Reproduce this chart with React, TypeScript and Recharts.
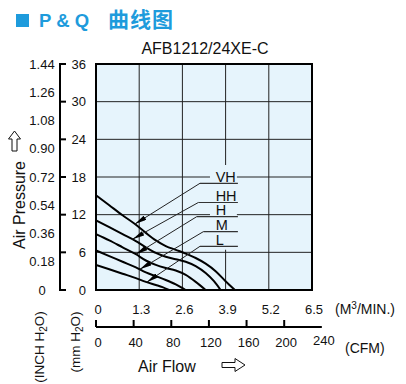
import React from 'react';
import {
  LineChart, Line, XAxis, YAxis, CartesianGrid, ReferenceArea, ReferenceLine, ReferenceDot,
} from 'recharts';

const FONT = '"Liberation Sans", Arial, sans-serif';
const BLUE = '#1e9bdc';
const PLOT_BG = '#e6f4fc';
const M3_TO_CFM = 35.3147;

// axis ticks
const m3Ticks = [0, 1.3, 2.6, 3.9, 5.2, 6.5];
const cfmTicks = [0, 40, 80, 120, 160, 200, 240];
const mmTicks = [0, 6, 12, 18, 24, 30, 36];
const inchTicks = [0, 0.18, 0.36, 0.54, 0.72, 0.9, 1.08, 1.26, 1.44];

// P-Q curves: flow in M3/min, pressure in mmH2O
const vhFlow = [0, 0.4, 0.8, 1.2, 1.5, 1.8, 2.1, 2.4, 2.7, 3.0, 3.3, 3.6, 3.9, 4.18];
const vhPressure = [15.1, 13.5, 11.9, 10.4, 9.1, 7.9, 7.0, 6.4, 5.8, 5.1, 4.2, 3.0, 1.4, 0];
const hhFlow = [0, 0.4, 0.8, 1.2, 1.5, 1.8, 2.1, 2.4, 2.7, 3.0, 3.3, 3.55, 3.75];
const hhPressure = [11.1, 10.0, 8.9, 7.8, 6.8, 5.9, 5.3, 4.9, 4.5, 3.8, 2.7, 1.4, 0];
const hFlow = [0, 0.4, 0.8, 1.2, 1.5, 1.8, 2.1, 2.4, 2.7, 3.0, 3.3];
const hPressure = [8.9, 7.9, 6.8, 5.7, 4.7, 4.0, 3.5, 3.1, 2.4, 1.3, 0];
const mFlow = [0, 0.4, 0.8, 1.2, 1.5, 1.8, 2.1, 2.4, 2.7];
const mPressure = [6.3, 5.4, 4.5, 3.6, 2.8, 2.2, 1.6, 0.9, 0];
const lFlow = [0, 0.4, 0.8, 1.2, 1.5, 1.8, 2.0, 2.2];
const lPressure = [4.0, 3.3, 2.6, 1.9, 1.3, 0.8, 0.45, 0];

// speed labels with leader lines
const speedNames = ['VH', 'HH', 'H', 'M', 'L'];
const labelLevel = [17.0, 13.94, 11.68, 9.29, 6.96];
const labelStart = [3.13, 3.08, 3.03, 3.23, 3.13];
const labelEnd = 4.27;
const labelTextX = 3.6;
const tipFlow = [1.17, 1.1, 1.2, 1.32, 1.53];
const tipPressure = [10.5, 8.1, 5.7, 3.3, 1.25];

const toPoints = (f: number[], p: number[]) =>
  f.map((v, i) => ({ f: v, cfm: v * M3_TO_CFM, p: p[i] }));
const curves = [
  toPoints(vhFlow, vhPressure),
  toPoints(hhFlow, hhPressure),
  toPoints(hFlow, hPressure),
  toPoints(mFlow, mPressure),
  toPoints(lFlow, lPressure),
];

// axis ids: recharts stacks same-side axes by id, first id sits next to the plot
const X_M3 = 'flow';
const X_CFM = 'flowCfm';
const Y_MM = 'pressure';
const Y_INCH = 'pressureInch';

const MmTick = ({ x, y, payload }: any) => (
  <g>
    <line x1={x - 37} x2={x - 30} y1={y} y2={y} stroke="#000" strokeWidth={2} />
    <text x={x - 10} y={y} dy={4.5} textAnchor="end" fontSize={13} fontFamily={FONT} fill="#111">
      {payload.value}
    </text>
  </g>
);

const InchTick = ({ x, y, payload }: any) => (
  <text x={x - 18} y={y} dy={4.5} textAnchor="middle" fontSize={13} fontFamily={FONT} fill="#111">
    {payload.value === 0 ? '0' : payload.value.toFixed(2)}
  </text>
);

const M3Tick = ({ x, y, payload }: any) => (
  <text x={x + 2} y={y + 24} textAnchor="middle" fontSize={13} fontFamily={FONT} fill="#111">
    {payload.value}
  </text>
);

const CfmTick = ({ x, y, payload }: any) => (
  <g>
    {payload.value !== 240 && <line x1={x} x2={x} y1={y} y2={y - 7} stroke="#000" strokeWidth={2} />}
    <text x={x + 2} y={y + (payload.value === 240 ? 18 : 20)} textAnchor="middle" fontSize={13} fontFamily={FONT} fill="#111">
      {payload.value}
    </text>
  </g>
);

export default function App() {
  return (
    <div style={{ position: 'absolute', left: 0, top: 0, width: 406, height: 384, background: '#fff' }}>
      <LineChart width={406} height={384} margin={{ top: 64, right: 94, bottom: 0, left: 0 }}>
        <defs>
          <marker id="arrowHead" markerWidth={12} markerHeight={5} refX={12} refY={2.5} orient="auto" markerUnits="userSpaceOnUse">
            <path d="M0,0 L12,2.5 L0,5 z" fill="#000" />
          </marker>
        </defs>
        <XAxis xAxisId={X_M3} type="number" dataKey="f" domain={[0, 6.5]} ticks={m3Ticks} interval={0}
          height={37} axisLine={false} tickLine={false} tickSize={0} tickMargin={0} tick={<M3Tick />} allowDataOverflow />
        <XAxis xAxisId={X_CFM} type="number" dataKey="cfm" domain={[0, 6.5 * M3_TO_CFM]} ticks={cfmTicks} interval={0}
          height={57} axisLine={false} tickLine={false} tickSize={0} tickMargin={0} tick={<CfmTick />} allowDataOverflow />
        <YAxis yAxisId={Y_MM} type="number" domain={[0, 36]} ticks={mmTicks} interval={0} width={36}
          axisLine={false} tickLine={false} tickSize={0} tickMargin={0} tick={<MmTick />} allowDataOverflow />
        <YAxis yAxisId={Y_INCH} type="number" domain={[0, 1.44]} ticks={inchTicks} interval={0} width={60}
          axisLine={{ stroke: '#000', strokeWidth: 2 }} tickLine={false} tickSize={0} tickMargin={0} tick={<InchTick />} allowDataOverflow />
        <CartesianGrid xAxisId={X_M3} yAxisId={Y_MM} fill={PLOT_BG} fillOpacity={1} stroke="#222" strokeWidth={1} />
        <ReferenceArea xAxisId={X_M3} yAxisId={Y_MM} x1={3.43} x2={4.24} y1={6.4} y2={19.9}
          fill={PLOT_BG} fillOpacity={1} stroke="none" />
        {/* same VH curve in CFM units, invisible, keeps the CFM axis bound */}
        <Line xAxisId={X_CFM} yAxisId={Y_MM} data={curves[0]} dataKey="p" stroke="none" dot={false}
          isAnimationActive={false} legendType="none" />
        {curves.map((d, i) => (
          <Line key={speedNames[i]} xAxisId={X_M3} yAxisId={Y_MM} data={d} dataKey="p" type="monotone"
            stroke="#000" strokeWidth={2} dot={false} isAnimationActive={false} />
        ))}
        {speedNames.map((n, i) => (
          <ReferenceLine key={'u' + n} xAxisId={X_M3} yAxisId={Y_MM}
            segment={[{ x: labelStart[i], y: labelLevel[i] }, { x: labelEnd, y: labelLevel[i] }]}
            stroke="#333" strokeWidth={1.2} />
        ))}
        {speedNames.map((n, i) => (
          <ReferenceLine key={'a' + n} xAxisId={X_M3} yAxisId={Y_MM}
            segment={[{ x: labelStart[i], y: labelLevel[i] }, { x: tipFlow[i], y: tipPressure[i] }]}
            stroke="#222" strokeWidth={1} markerEnd="url(#arrowHead)" />
        ))}
        {speedNames.map((n, i) => (
          <ReferenceDot key={'t' + n} xAxisId={X_M3} yAxisId={Y_MM} x={labelTextX} y={labelLevel[i]}
            shape={(p: any) => (
              <text x={p.cx} y={p.cy - 1.5} fontSize={14.5} fontFamily={FONT} fill="#111">{n}</text>
            )} />
        ))}
        <ReferenceArea xAxisId={X_M3} yAxisId={Y_MM} x1={0} x2={6.5} y1={0} y2={36}
          fill="none" stroke="#000" strokeWidth={2} />
        <ReferenceLine xAxisId={X_CFM} yAxisId={Y_MM} ifOverflow="visible"
          segment={[{ x: 0, y: -5.9 }, { x: 240, y: -5.9 }]} stroke="#000" strokeWidth={2} />
      </LineChart>
      <svg width={406} height={384} style={{ position: 'absolute', left: 0, top: 0, pointerEvents: 'none' }}
        fontFamily={FONT} fill="#111">
        <rect x={16} y={14} width={13} height={13} fill={BLUE} />
        <text x={39} y={27} fontSize={18.5} fontWeight="bold" fill={BLUE}>P &amp; Q</text>
        <text x={108} y={27} fontSize={21} fontWeight="bold" fill={BLUE}
          fontFamily='"Noto Sans CJK SC", sans-serif' letterSpacing={1}>曲线图</text>
        <text x={205} y={54} fontSize={16} textAnchor="middle">AFB1212/24XE-C</text>
        <text transform="translate(25,205) rotate(-90)" fontSize={16} textAnchor="middle">Air Pressure</text>
        <polygon points="14.5,131 20.5,139 17,139 17,151 12,151 12,139 8.5,139" fill="#fff" stroke="#111" strokeWidth={1} />
        <text transform="translate(44,347) rotate(-90)" fontSize={13.5} textAnchor="middle">
          (INCH H<tspan dy={3} fontSize={10}>2</tspan><tspan dy={-3}>O)</tspan>
        </text>
        <text transform="translate(80,342) rotate(-90)" fontSize={13.5} textAnchor="middle">
          (mm H<tspan dy={3} fontSize={10}>2</tspan><tspan dy={-3}>O)</tspan>
        </text>
        <text x={335} y={314} fontSize={14}>
          (M<tspan dy={-5} fontSize={10}>3</tspan><tspan dy={5}>/MIN.)</tspan>
        </text>
        <text x={345} y={353} fontSize={14}>(CFM)</text>
        <text x={138} y={372} fontSize={16}>Air Flow</text>
        <polygon points="222,362.5 235,362.5 235,358.5 245,365 235,371.5 235,367.5 222,367.5" fill="#fff" stroke="#111" strokeWidth={1} />
      </svg>
    </div>
  );
}
